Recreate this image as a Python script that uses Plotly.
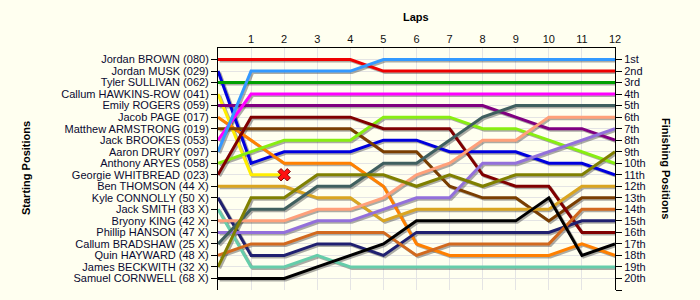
import plotly.graph_objects as go

laps = [0, 1, 2, 3, 4, 5, 6, 7, 8, 9, 10, 11, 12]
lap_ticks = [1, 2, 3, 4, 5, 6, 7, 8, 9, 10, 11, 12]

drivers = ["Jordan BROWN (080)", "Jordan MUSK (029)", "Tyler SULLIVAN (062)",
           "Callum HAWKINS-ROW (041)", "Emily ROGERS (059)", "Jacob PAGE (017)",
           "Matthew ARMSTRONG (019)", "Jack BROOKES (053)", "Aaron DRURY (097)",
           "Anthony ARYES (058)", "Georgie WHITBREAD (023)", "Ben THOMSON (44 X)",
           "Kyle CONNOLLY (50 X)", "Jack SMITH (83 X)", "Bryony KING (42 X)",
           "Phillip HANSON (47 X)", "Callum BRADSHAW (25 X)", "Quin HAYWARD (48 X)",
           "James BECKWITH (32 X)", "Samuel CORNWELL (68 X)"]
finish_labels = ["1st", "2nd", "3rd", "4th", "5th", "6th", "7th", "8th", "9th", "10th",
                 "11th", "12th", "13th", "14th", "15th", "16th", "17th", "18th", "19th", "20th"]
positions = [1, 2, 3, 4, 5, 6, 7, 8, 9, 10, 11, 12, 13, 14, 15, 16, 17, 18, 19, 20]

BROWN = [1, 1, 1, 1, 1, 2, 2, 2, 2, 2, 2, 2, 2]
MUSK = [2, 10, 9, 9, 9, 8, 8, 9, 9, 9, 10, 10, 11]
SULLIVAN = [3, 3, 3, 3, 3, 3, 3, 3, 3, 3, 3, 3, 3]
HAWKINS_ROW = [4, 11, 11]
ROGERS = [5, 5, 5, 5, 5, 5, 5, 5, 5, 6, 7, 7, 8]
PAGE = [6, 8, 10, 10, 10, 12, 17, 18, 18, 18, 18, 17, 18]
ARMSTRONG = [7, 7, 7, 7, 7, 9, 9, 12, 13, 13, 15, 13, 13]
BROOKES = [8, 4, 4, 4, 4, 4, 4, 4, 4, 4, 4, 4, 4]
DRURY = [9, 2, 2, 2, 2, 1, 1, 1, 1, 1, 1, 1, 1]
ARYES = [10, 9, 8, 8, 8, 6, 6, 6, 7, 7, 8, 9, 10]
WHITBREAD = [11, 6, 6, 6, 6, 7, 7, 7, 11, 12, 12, 16, 16]
THOMSON = [12, 12, 12, 13, 13, 15, 14, 14, 14, 14, 14, 12, 12]
CONNOLLY = [13, 18, 18, 17, 17, 18, 16, 16, 16, 16, 16, 15, 15]
SMITH = [14, 19, 19, 18, 19, 19, 19, 19, 19, 19, 19, 19, 19]
KING = [15, 15, 15, 14, 14, 13, 11, 10, 8, 8, 6, 6, 6]
HANSON = [16, 16, 16, 15, 15, 14, 13, 13, 10, 10, 9, 8, 7]
BRADSHAW = [17, 14, 14, 12, 12, 10, 10, 8, 6, 5, 5, 5, 5]
HAYWARD = [18, 17, 17, 16, 16, 16, 18, 17, 17, 17, 17, 14, 14]
BECKWITH = [19, 13, 13, 11, 11, 11, 12, 11, 12, 11, 11, 11, 9]
CORNWELL = [20, 20, 20, 19, 18, 17, 15, 15, 15, 15, 13, 18, 17]

series = [BROWN, MUSK, SULLIVAN, HAWKINS_ROW, ROGERS, PAGE, ARMSTRONG, BROOKES, DRURY,
          ARYES, WHITBREAD, THOMSON, CONNOLLY, SMITH, KING, HANSON, BRADSHAW, HAYWARD,
          BECKWITH, CORNWELL]
colors = ["#EE0000", "#0000DD", "#00A000", "#FFEE00", "#800080", "#FF8000", "#7A3E00",
          "#FF00FF", "#3399FF", "#88EE11", "#800000", "#DAA520", "#202070", "#66CDAA",
          "#FFA07A", "#9370DB", "#3F5F5F", "#D2691E", "#808000", "#000000"]
retired = [3]

BG = "#FFFFF0"
FONT = "Liberation Sans, Arial, sans-serif"
TXT = "#0A0A30"

W, H = 700, 300
ML, MR, MT, MB = 218, 85, 48, 10

fig = go.Figure()

# shadows
for s in series:
    n = len(s)
    fig.add_trace(go.Scatter(x=[v + 0.05 for v in laps[:n]], y=[v + 0.13 for v in s],
                             mode="lines", line=dict(color="rgba(70,70,70,0.45)", width=3),
                             hoverinfo="skip", showlegend=False))
# lines
for name, s, c in zip(drivers, series, colors):
    n = len(s)
    fig.add_trace(go.Scatter(x=laps[:n], y=s, mode="lines", name=name,
                             line=dict(color=c, width=3), showlegend=False))
# retirement markers
for i in retired:
    s = series[i]
    n = len(s)
    fig.add_trace(go.Scatter(x=[laps[n - 1]], y=[s[-1]], mode="markers",
                             marker=dict(symbol="x", size=11, color="#FF1010",
                                         line=dict(color="#800000", width=1)),
                             showlegend=False, hoverinfo="skip"))

# dummy trace for right axis
fig.add_trace(go.Scatter(x=[0], y=[1], yaxis="y2", mode="markers", marker=dict(opacity=0),
                         showlegend=False, hoverinfo="skip"))

pw = W - ML - MR
ph = H - MT - MB


def px_to_paper(px, py):
    return (px - ML) / pw, (H - MB - py) / ph


def ann(text, px, py, angle=0):
    x, y = px_to_paper(px, py)
    return dict(text=text, x=x, y=y, xref="paper", yref="paper", showarrow=False,
                xanchor="center", yanchor="middle", textangle=angle,
                font=dict(size=11, color="#000000"))


fig.update_layout(
    width=W, height=H,
    paper_bgcolor=BG, plot_bgcolor=BG,
    margin=dict(l=ML, r=MR, t=MT, b=MB, autoexpand=False),
    font=dict(family=FONT, size=11, color=TXT),
    xaxis=dict(range=[0, 12], side="top", tickvals=lap_ticks, ticks="",
               showgrid=True, gridcolor="#E4E4E4", gridwidth=1,
               showline=True, linecolor="#000000", linewidth=1, zeroline=False,
               tickfont=dict(size=11, color="#111111"), fixedrange=True),
    yaxis=dict(range=[21, 0], tickvals=positions, ticktext=drivers, ticks="outside",
               ticklen=6, tickcolor="#000000", showgrid=True, gridcolor="#E4E4E4",
               showline=True, linecolor="#000000", linewidth=1, zeroline=False,
               tickfont=dict(size=11, color=TXT)),
    yaxis2=dict(range=[21, 0], overlaying="y", side="right",
                tickvals=positions + [21], ticktext=finish_labels + [""], ticks="outside",
                ticklen=6, tickcolor="#000000", showgrid=False,
                showline=True, linecolor="#000000", linewidth=1, zeroline=False,
                tickfont=dict(size=11, color=TXT)),
    annotations=[
        ann("<b>Laps</b>", 416, 17),
        ann("<b>Starting Positions</b>", 26, 168, -90),
        ann("<b>Finishing Positions</b>", 666, 168, 90),
    ],
)

fig.write_html("out.html",
               config={"displayModeBar": False},
               post_script="document.body.style.margin='0';"
                           "document.body.style.background='#FFFFF0';")
